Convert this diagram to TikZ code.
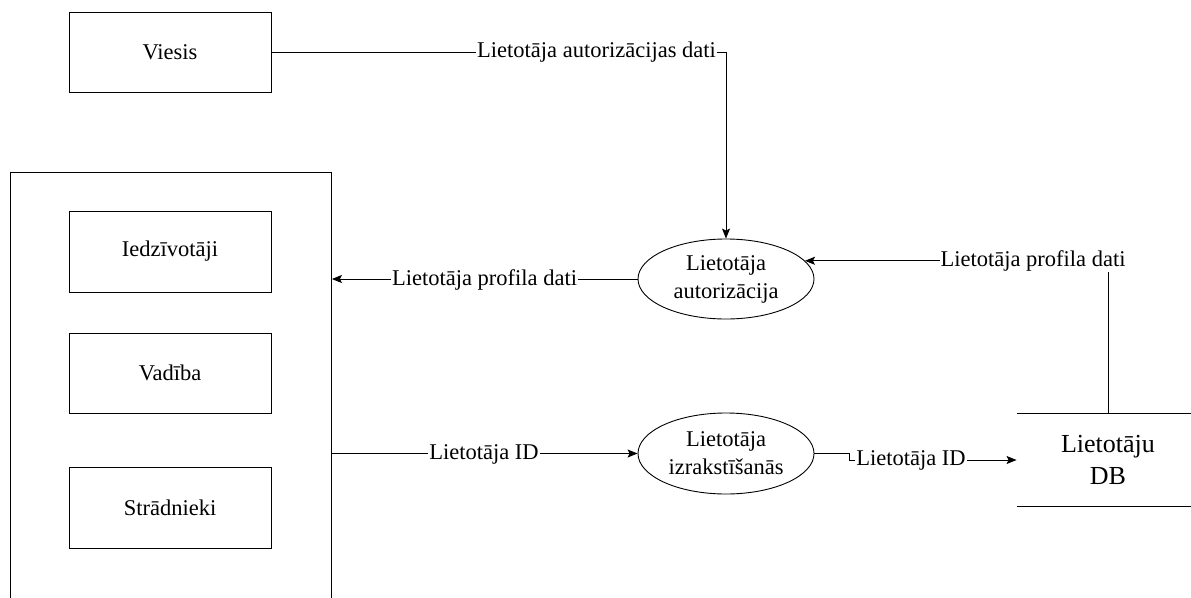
\documentclass[tikz,border=0pt]{standalone}
\usepackage{fontspec}
\setmainfont{Liberation Serif}
\newfontfamily\diagserif{Liberation Serif}
\usetikzlibrary{shapes.geometric,arrows.meta}
\begin{document}
\begin{tikzpicture}[x=1pt,y=-1pt, line width=0.9pt,
  every node/.style={font=\diagserif\fontsize{22.5}{28}\selectfont},
  ent/.style={draw, rectangle, minimum width=202pt, minimum height=80pt, inner sep=0pt},
  proc/.style={draw, ellipse, minimum width=176pt, minimum height=80pt, inner sep=0pt, align=center},
  lab/.style={fill=white, inner sep=1pt},
  arr/.style={-{Stealth[length=10pt,width=8pt,inset=2pt]}}]
\useasboundingbox (0,0) rectangle (1191,597);

\node[ent] (viesis) at (170,52) {Viesis};
\node[draw, minimum width=321.5pt, minimum height=470pt, anchor=north west, inner sep=0pt] (users) at (9.5,172) {};
\node[ent, minimum height=81pt] (ied) at (170,251.5) {Iedzīvotāji};
\node[ent] (vad) at (170,373) {Vadība};
\node[ent, minimum height=81pt] (str) at (170,507.5) {Strādnieki};
\node[proc] (auth) at (726,279) {Lietotāja\\autorizācija};
\node[proc, minimum height=81pt] (logout) at (726,453.5) {Lietotāja\\izrakstīšanās};
\node[minimum width=182pt, minimum height=92pt, inner sep=0pt, align=center, font=\diagserif\fontsize{26}{32}\selectfont] (db) at (1108,460) {Lietotāju\\DB};
\draw (db.north west) -- (db.north east) (db.south west) -- (db.south east);

\draw[arr] (viesis.east) -| (auth.north);
\node[lab] (l1) at (596.5,52) {Lietotāja autorizācijas dati};

\draw[arr] (auth.west) -- (auth.west -| users.east);
\node[lab] (l2) at (484.5,280) {Lietotāja profila dati};

\draw[arr] (db.north) |- (auth.13);
\node[lab] (l3) at (1033,261) {Lietotāja profila dati};

\draw[arr] (logout.west -| users.east) -- (logout.west);
\node[lab] (l4) at (484,454) {Lietotāja ID};

\draw[arr] (logout.east) -- ++(35,0) |- (db.west);
\node[lab] (l5) at (911,460) {Lietotāja ID};
\end{tikzpicture}
\end{document}
